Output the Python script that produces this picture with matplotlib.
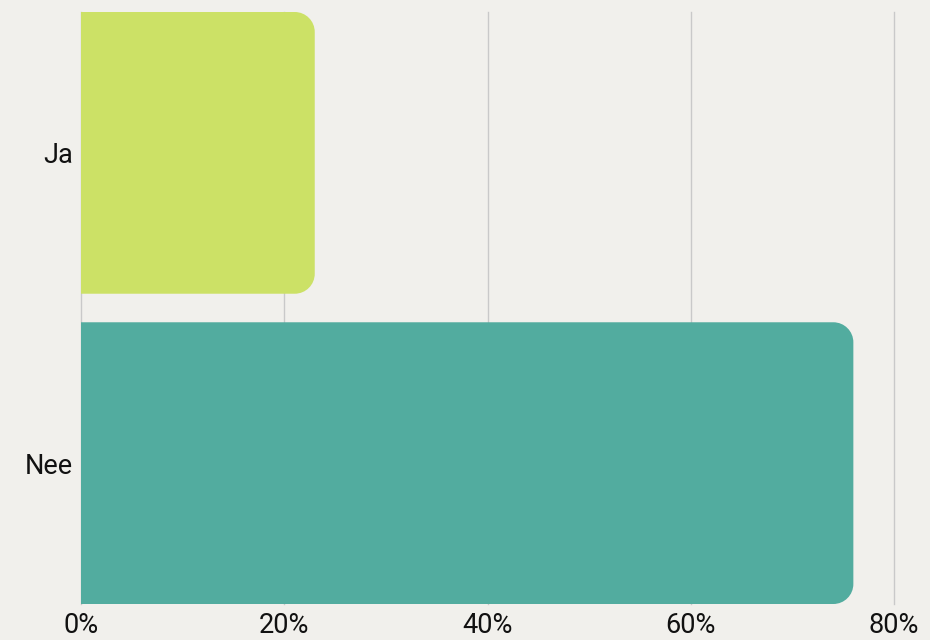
import matplotlib
matplotlib.use('Agg')
import matplotlib.pyplot as plt
from matplotlib.path import Path
from matplotlib.patches import PathPatch

categories = ['Ja', 'Nee']
values = [23, 76]
colors = ['#cce166', '#52ac9f']
ticks = [0, 20, 40, 60, 80]
tick_labels = ['0%', '20%', '40%', '60%', '80%']

bg = '#f1f0ec'
plt.rcParams['font.family'] = ['Roboto', 'DejaVu Sans']

fig = plt.figure(figsize=(9.3, 6.4), dpi=100, facecolor=bg)
ax = fig.add_axes([81 / 930, 36 / 640, 813 / 930, 592 / 640], facecolor=bg)

bar_h = 0.908
ax.set_xlim(0, 80)
ax.set_ylim(1 + bar_h / 2, -bar_h / 2)


def rounded_right_bar(ax, y, width, height, radius_px, color):
    # radius in pixels -> data units on each axis
    inv = ax.transData.inverted()
    p0 = inv.transform(ax.transData.transform((0, 0)))
    p1 = inv.transform(ax.transData.transform((0, 0)) + [radius_px, radius_px])
    rx = abs(p1[0] - p0[0])
    ry = abs(p1[1] - p0[1])
    x0, x1 = 0, width
    y0, y1 = y - height / 2, y + height / 2
    k = 0.5523
    verts = [
        (x0, y0),
        (x1 - rx, y0),
        (x1 - rx + k * rx, y0), (x1, y0 + ry - k * ry), (x1, y0 + ry),
        (x1, y1 - ry),
        (x1, y1 - ry + k * ry), (x1 - rx + k * rx, y1), (x1 - rx, y1),
        (x0, y1),
        (x0, y0),
    ]
    codes = [Path.MOVETO, Path.LINETO,
             Path.CURVE4, Path.CURVE4, Path.CURVE4,
             Path.LINETO,
             Path.CURVE4, Path.CURVE4, Path.CURVE4,
             Path.LINETO, Path.CLOSEPOLY]
    ax.add_patch(PathPatch(Path(verts, codes), facecolor=color,
                           edgecolor='none', zorder=3))


for i, (cat, val) in enumerate(zip(categories, values)):
    rounded_right_bar(ax, i, val, bar_h, 20, colors[i])

ax.set_yticks(range(len(categories)))
ax.set_yticklabels(categories, fontsize=19.5)
ax.set_xticks(ticks)
ax.set_xticklabels(tick_labels, fontsize=19.5)
ax.tick_params(length=0, colors='#111111')
ax.tick_params(axis='y', pad=6)
ax.tick_params(axis='x', pad=6)
ax.xaxis.grid(True, color='#c9c9c9', linewidth=1.0, zorder=0)
ax.set_axisbelow(True)
for gl in ax.get_xgridlines():
    gl.set_clip_on(False)
for s in ax.spines.values():
    s.set_visible(False)

fig.savefig('out.png', dpi=100, facecolor=bg)
